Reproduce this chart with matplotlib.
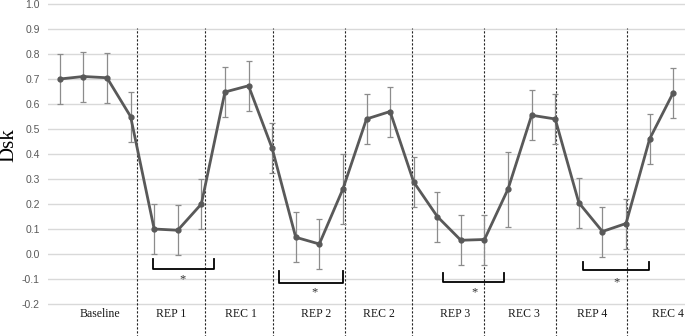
import numpy as np
import matplotlib
matplotlib.use("Agg")
import matplotlib.pyplot as plt

# Dsk mean values per measurement (27 time points) and SD
dsk = [0.70, 0.71, 0.705, 0.55,
       0.10, 0.095, 0.20,
       0.648, 0.673, 0.423,
       0.067, 0.04, 0.26,
       0.54, 0.57, 0.288,
       0.15, 0.055, 0.058,
       0.26, 0.555, 0.54,
       0.205, 0.09, 0.122,
       0.46, 0.645]
sd = [0.10, 0.10, 0.10, 0.10,
      0.10, 0.10, 0.10,
      0.10, 0.10, 0.10,
      0.10, 0.10, 0.14,
      0.10, 0.10, 0.10,
      0.10, 0.10, 0.10,
      0.15, 0.10, 0.10,
      0.10, 0.10, 0.10,
      0.10, 0.10]

phase_labels = ['Baseline', 'REP 1', 'REC 1', 'REP 2', 'REC 2',
                'REP 3', 'REC 3', 'REP 4', 'REC 4']
phase_label_x = [1.68, 4.73, 7.68, 10.86, 13.53, 16.75, 19.67, 22.55, 25.77]
phase_bounds = [3.27, 6.15, 9.03, 12.08, 14.92, 17.97, 21.02, 24.03]

# significance brackets: (x start, x end, top y, bottom y, star x, star y)
brackets = [(3.95, 6.53, -0.02, -0.06, 5.22, -0.10),
            (9.29, 12.0, -0.068, -0.116, 10.81, -0.152),
            (16.24, 18.82, -0.076, -0.112, 17.59, -0.152),
            (22.17, 24.97, -0.032, -0.064, 23.61, -0.112)]

yticks = np.round(np.arange(-0.2, 1.01, 0.1), 1)

plt.rcParams['font.family'] = ['Liberation Serif', 'DejaVu Serif']

fig = plt.figure(figsize=(6.87, 3.36), dpi=100)
ax = fig.add_axes([48 / 687, 0, 637 / 687, 1])

x = np.arange(len(dsk))
ax.errorbar(x, dsk, yerr=sd, fmt='none', ecolor='#8c8c8c', elinewidth=0.9,
            capsize=2.5, capthick=0.9, zorder=3)
ax.plot(x, dsk, color='#595959', lw=2, marker='o', ms=3.5, zorder=4)

for y in yticks:
    ax.axhline(y, color='#d9d9d9', lw=1, zorder=0)

ax.vlines(phase_bounds, -0.33, 0.905, colors='#222222', linestyles=(0, (2, 1.6)),
          lw=0.8, zorder=2)

for lab, lx in zip(phase_labels, phase_label_x):
    ax.text(lx, -0.24, lab, ha='center', va='center', fontsize=8.5, color='#1a1a1a')

for x0, x1, yt, yb, sx, sy in brackets:
    ax.plot([x0, x0, x1, x1], [yt, yb, yb, yt], color='black', lw=1.3, zorder=5)
    ax.text(sx, sy, '*', ha='center', va='center', fontsize=9, color='#333333')

ax.set_xlim(-0.5, len(dsk) - 0.5)
ax.set_ylim(-0.328, 1.016)
ax.set_yticks(yticks)
ax.set_yticklabels([f'{v:.1f}' for v in yticks], fontsize=7.5, color='#595959',
                   family=['Liberation Sans', 'DejaVu Sans'])
ax.tick_params(axis='y', length=0, pad=6)
ax.set_xticks([])
for s in ax.spines.values():
    s.set_visible(False)

fig.text(9 / 687, 1 - 145 / 336, 'Dsk', rotation=90, ha='center', va='center',
         fontsize=15)

fig.savefig('out.png', dpi=100)
